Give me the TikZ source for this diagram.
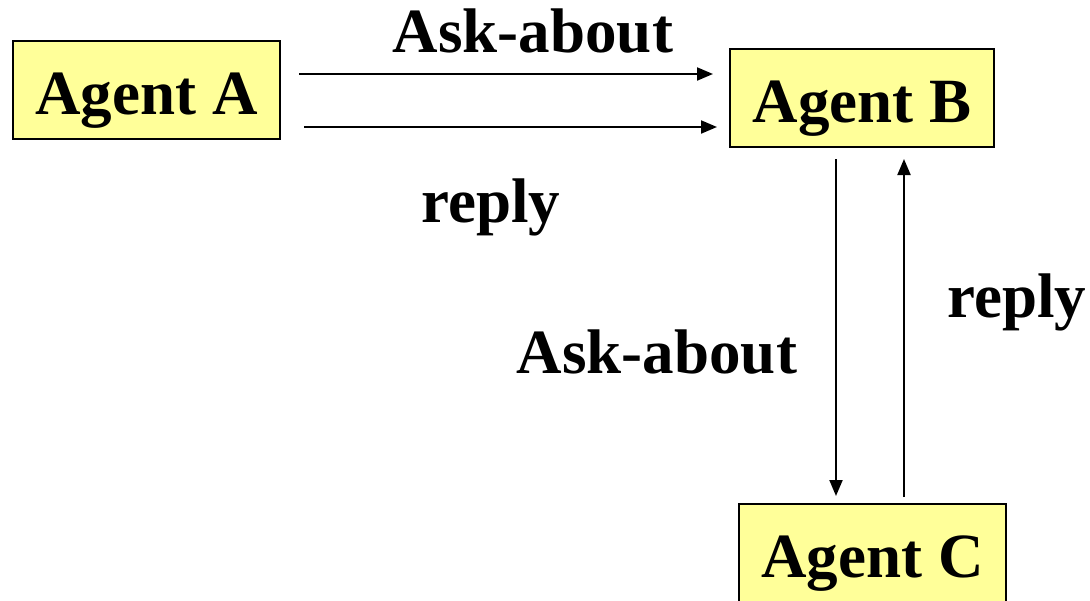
\documentclass[tikz,border=0pt]{standalone}
\usepackage{fontspec}
\setmainfont{Liberation Serif}
\usetikzlibrary{arrows.meta}
\definecolor{agentfill}{HTML}{FFFF99}
\begin{document}
\begin{tikzpicture}[x=1pt,y=-1pt,
  agentbox/.style={draw=black,line width=2pt,fill=agentfill,anchor=north west,
    minimum width=267pt,minimum height=98pt,inner sep=0pt,
    text height=50pt,text depth=2pt,font=\fontsize{63}{70}\selectfont\bfseries},
  msglabel/.style={anchor=base,inner sep=0pt,font=\fontsize{63}{70}\selectfont\bfseries},
  msg/.style={line width=2pt,-{Triangle[length=16pt,width=13pt]}}]
\useasboundingbox (0,0) rectangle (1090,600);
\clip (0,0) rectangle (1090,600);

% agents
\node[agentbox] (A) at (12,40) {Agent A};
\node[agentbox,minimum width=264pt] (B) at (729,48) {Agent B};
\node[agentbox] (C) at (738,503) {Agent C};

% message labels
\node[msglabel] (l1) at (533,52) {Ask-about};
\node[msglabel] (l2) at (491,222) {reply};
\node[msglabel] (l3) at (657,373) {Ask-about};
\node[msglabel] (l4) at (1017,317) {reply};

% messages between A and B
\draw[msg] ([shift={(18,-16)}]A.east) -- ([shift={(-16,-24)}]B.west);
\draw[msg] ([shift={(23,37)}]A.east) -- ([shift={(-12,29)}]B.west);

% messages between B and C
\draw[msg] ([shift={(-26,11)}]B.south) -- ([shift={(-36.5,-7)}]C.north);
\draw[msg] ([shift={(31.5,-6)}]C.north) -- ([shift={(42,11)}]B.south);
\end{tikzpicture}
\end{document}
